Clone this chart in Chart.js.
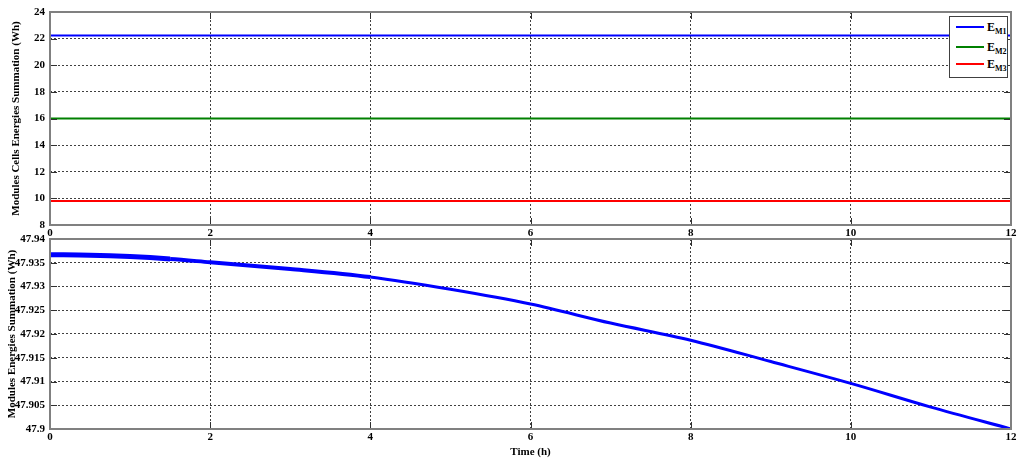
<!DOCTYPE html>
<html><head><meta charset="utf-8">
<script src="https://cdn.jsdelivr.net/npm/chart.js@4.4.0/dist/chart.umd.min.js"></script>
<style>
html,body{margin:0;padding:0;background:#fff;}
#wrap{position:relative;width:1024px;height:467px;overflow:hidden;}
canvas{position:absolute;left:0;top:0;}
#legend{position:absolute;left:949px;top:16px;width:57px;height:60px;border:1px solid #404040;background:#fff;font-family:"Liberation Serif",serif;font-weight:bold;color:#000;z-index:5;}
.row{position:absolute;left:0;width:57px;height:16px;}
.ln{position:absolute;left:6px;width:28px;height:2px;top:7px;}
.tx{position:absolute;left:37px;top:0px;font-size:12px;line-height:16px;white-space:nowrap;}
.tx sub{font-size:8px;vertical-align:-3px;line-height:0;}
</style></head>
<body>
<div id="wrap">
<canvas id="c1" width="1024" height="467"></canvas>
<canvas id="c2" width="1024" height="467"></canvas>
<div id="legend"></div>
</div>
<script>
// ---- data ----
const timeTop = [0, 2, 4, 6, 8, 10, 12];
const energyM1 = [22.23, 22.23, 22.23, 22.23, 22.23, 22.23, 22.23];
const energyM2 = [16.0, 16.0, 16.0, 16.0, 16.0, 16.0, 16.0];
const energyM3 = [9.8, 9.8, 9.8, 9.8, 9.8, 9.8, 9.8];
const seriesLabels = ['M1', 'M2', 'M3'];

const timeBottom = [0, 0.5, 1, 1.5, 2, 3, 4, 5, 6, 7, 8, 9, 10, 11, 12];
const moduleEnergy = [47.9367, 47.9366, 47.9363, 47.9358, 47.9351, 47.9337, 47.9320, 47.9294, 47.9263, 47.9223, 47.9187, 47.9142, 47.9096, 47.9046, 47.9000];

const xTickValues = [0, 2, 4, 6, 8, 10, 12];
const topYTickValues = [8, 10, 12, 14, 16, 18, 20, 22, 24];
const bottomYTickValues = [47.9, 47.905, 47.91, 47.915, 47.92, 47.925, 47.93, 47.935, 47.94];

const colors = ['#0000ff', '#008000', '#ff0000'];
// ---------------

const FONT = {family: '"Liberation Serif", serif', size: 11, weight: 'bold'};
const zip = (xs, ys) => xs.map((x, i) => ({x, y: ys[i]}));
const fixedTicks = arr => scale => { scale.ticks = arr.map(v => ({value: v})); };
const fmt = v => String(Number(Number(v).toFixed(3)));

const framePlugin = {
  id: 'frame',
  afterDraw(chart) {
    const {ctx, chartArea: a, scales} = chart;
    ctx.save();
    ctx.strokeStyle = '#303030';
    ctx.lineWidth = 1;
    ctx.beginPath();
    scales.y.ticks.forEach(t => {
      const p = Math.round(scales.y.getPixelForValue(t.value)) + 0.5;
      ctx.moveTo(a.left, p); ctx.lineTo(a.left + 7, p);
      ctx.moveTo(a.right, p); ctx.lineTo(a.right - 7, p);
    });
    scales.x.ticks.forEach(t => {
      const p = Math.round(scales.x.getPixelForValue(t.value)) + 0.5;
      ctx.moveTo(p, a.bottom); ctx.lineTo(p, a.bottom - 7);
      ctx.moveTo(p, a.top); ctx.lineTo(p, a.top + 7);
    });
    ctx.stroke();
    ctx.strokeStyle = '#808080';
    ctx.lineWidth = 2;
    ctx.strokeRect(a.left, a.top, a.right - a.left, a.bottom - a.top);
    ctx.restore();
  }
};

function xScale(withTitle, heightPx) {
  return {
    type: 'linear', min: 0, max: 12,
    afterBuildTicks: fixedTicks(xTickValues),
    afterFit: s => { s.height = heightPx; },
    grid: {color: '#404040', lineWidth: 1, drawTicks: false},
    border: {display: false, dash: [2, 2]},
    ticks: {font: FONT, color: '#000', padding: 2, maxRotation: 0, autoSkip: false, callback: v => fmt(v)},
    title: {display: withTitle, text: 'Time (h)', font: FONT, color: '#000', padding: {top: 0, bottom: 8}}
  };
}
function yScale(min, max, ticksArr, title, titlePad) {
  return {
    type: 'linear', min, max,
    afterBuildTicks: fixedTicks(ticksArr),
    afterFit: s => { s.width = 50; },
    grid: {color: '#404040', lineWidth: 1, drawTicks: false},
    border: {display: false, dash: [2, 2]},
    ticks: {font: FONT, color: '#000', padding: 5, autoSkip: false, callback: v => fmt(v)},
    title: {display: true, text: title, font: FONT, color: '#000', padding: {top: titlePad, bottom: 0}}
  };
}

const common = {
  responsive: false, animation: false, devicePixelRatio: 1,
  plugins: {legend: {display: false}, tooltip: {enabled: false}},
  elements: {point: {radius: 0}, line: {tension: 0}}
};

new Chart(document.getElementById('c1'), {
  type: 'line',
  data: {
    datasets: [energyM1, energyM2, energyM3].map((d, i) => ({
      label: 'E' + seriesLabels[i], data: zip(timeTop, d), borderColor: colors[i], borderWidth: 2, fill: false
    }))
  },
  options: Object.assign({}, common, {
    layout: {padding: {top: 12, right: 13, bottom: 227, left: 0}},
    scales: {
      x: xScale(false, 15),
      y: yScale(8, 24, topYTickValues, 'Modules Cells Energies Summation (Wh)', 10)
    }
  }),
  plugins: [framePlugin]
});

new Chart(document.getElementById('c2'), {
  type: 'line',
  data: {
    datasets: [{
      label: 'Modules Energies', data: zip(timeBottom, moduleEnergy), borderColor: '#0000ff', fill: false,
      borderWidth: 3, cubicInterpolationMode: 'monotone',
      segment: {borderWidth: ctx => ctx.p0.parsed.x < 1.5 ? 5 : (ctx.p0.parsed.x < 4 ? 4 : 3)}
    }]
  },
  options: Object.assign({}, common, {
    layout: {padding: {top: 239, right: 13, bottom: 0, left: 0}},
    scales: {
      x: xScale(true, 38),
      y: yScale(47.9, 47.94, bottomYTickValues, 'Modules Energies Summation (Wh)', 6)
    }
  }),
  plugins: [framePlugin]
});

// legend
const legend = document.getElementById('legend');
const rowTops = [2, 22, 39];
seriesLabels.forEach((lab, i) => {
  const row = document.createElement('div');
  row.className = 'row';
  row.style.top = rowTops[i] + 'px';
  row.innerHTML = '<div class="ln" style="background:' + colors[i] + '"></div><div class="tx">E<sub>' + lab + '</sub></div>';
  legend.appendChild(row);
});
</script>
</body></html>
